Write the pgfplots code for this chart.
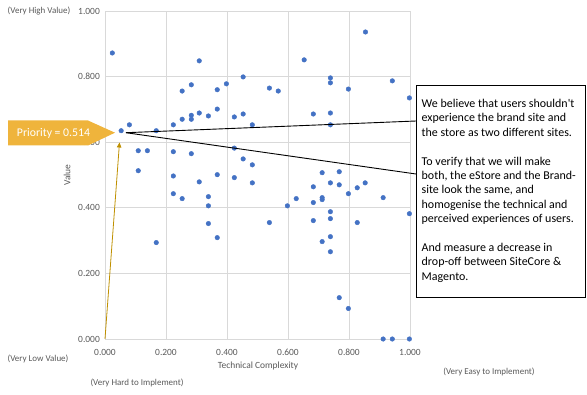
\documentclass[border=0pt]{standalone}
\usepackage{fontspec}
\setmainfont{Carlito}
\newfontfamily\boxfont{Carlito}
\usepackage{pgfplots}
\pgfplotsset{compat=1.18}
\usetikzlibrary{arrows.meta}
\definecolor{gridgray}{HTML}{D9D9D9}
\definecolor{txtgray}{HTML}{595959}
\definecolor{ptblue}{HTML}{4472C4}
\definecolor{goldfill}{HTML}{EFB43C}
\definecolor{goldline}{HTML}{BF9000}
\begin{document}
\begin{tikzpicture}
\path[use as bounding box] (0,0) rectangle (587bp,395bp);
\begin{axis}[
  at={(105bp,56bp)}, anchor=south west,
  scale only axis, width=305bp, height=328bp,
  xmin=0, xmax=1, ymin=0, ymax=1,
  clip=false,
  axis line style={draw=gridgray},
  grid=major, grid style={draw=gridgray, line width=0.6bp},
  major tick length=0pt,
  xtick={0,0.2,0.4,0.6,0.8,1},
  ytick={0,0.2,0.4,0.6,0.8,1},
  xticklabels={0.000,0.200,0.400,0.600,0.800,1.000},
  yticklabels={0.000,0.200,0.400,0.600,0.800,1.000},
  /pgf/number format/assume math mode=true,
  tick label style={font=\fontsize{9.5}{10}\selectfont, text=txtgray, inner sep=0pt},
  xticklabel style={anchor=center, yshift=-13bp},
  yticklabel style={anchor=east, xshift=-5bp},
]
\addplot[only marks, mark=*, mark size=2.3bp, mark options={fill=ptblue, draw=ptblue}] coordinates {
(0.024,0.872) (0.309,0.848) (0.453,0.799) (0.283,0.775) (0.253,0.756)
(0.398,0.778) (0.368,0.760) (0.368,0.701) (0.309,0.689) (0.283,0.682)
(0.283,0.670) (0.253,0.670) (0.339,0.680) (0.424,0.677) (0.453,0.686)
(0.224,0.653) (0.080,0.653) (0.483,0.653) (0.053,0.635) (0.168,0.635)
(0.109,0.574) (0.139,0.574) (0.224,0.571) (0.283,0.565) (0.424,0.582)
(0.453,0.549) (0.483,0.531) (0.109,0.513) (0.224,0.497) (0.368,0.501)
(0.424,0.492) (0.309,0.479) (0.483,0.476) (0.224,0.443) (0.253,0.428)
(0.339,0.434) (0.339,0.406) (0.339,0.352) (0.368,0.309) (0.168,0.294)
(0.854,0.936) (0.653,0.851) (0.739,0.796) (0.739,0.781) (0.539,0.765)
(0.568,0.756) (0.798,0.762) (0.942,0.787) (0.998,0.735) (0.683,0.686)
(0.739,0.689) (0.739,0.653) (0.712,0.507) (0.768,0.510) (0.739,0.476)
(0.768,0.470) (0.853,0.476) (0.827,0.461) (0.683,0.464) (0.798,0.443)
(0.627,0.428) (0.712,0.431) (0.712,0.425) (0.912,0.431) (0.683,0.416)
(0.598,0.406) (0.739,0.388) (0.998,0.382) (0.739,0.367) (0.683,0.361)
(0.539,0.355) (0.827,0.355) (0.739,0.312) (0.712,0.297) (0.739,0.266)
(0.768,0.126) (0.798,0.093) (0.912,0.000) (0.942,0.000) (0.998,0.000)
};
\end{axis}
\begin{scope}[x=1bp,y=1bp]
% gold arrow from origin
\draw[goldline, line width=0.8bp, -{Triangle[width=4.5bp,length=5bp]}] (105,56) -- (119.5,252.5);
% priority callout
\fill[goldfill] (8,274.5) -- (88,274.5) -- (115,262.3) -- (88,249.5) -- (8,249.5) -- cycle;
\node[text=white, font=\fontsize{11.8}{13}\selectfont, inner sep=0pt] at (53.5,262) {Priority = 0.514};
% callout lines and box
\draw[black, line width=0.9bp] (126,262.3) -- (416,274);
\draw[black, line width=0.9bp] (126,262.3) -- (416,221);
\draw[black, line width=1bp, fill=white] (416,97) rectangle (585,309);
\node[anchor=north west, inner sep=0pt, align=left, font=\boxfont\fontsize{12}{14.45}\selectfont] at (421.5,296) {We believe that users shouldn't\\experience the brand site and\\the store as two different sites.\\[14.45bp]To verify that we will make\\both, the eStore and the Brand-\\site look the same, and\\homogenise the technical and\\perceived experiences of users.\\[14.45bp]And measure a decrease in\\drop-off between SiteCore \&\\Magento.};
% axis texts
\node[text=txtgray, font=\fontsize{9}{10}\selectfont, inner sep=0pt] at (39,384) {(Very High Value)};
\node[text=txtgray, font=\fontsize{9}{10}\selectfont, inner sep=0pt] at (38,36) {(Very Low Value)};
\node[text=txtgray, font=\fontsize{9.5}{10}\selectfont, inner sep=0pt, rotate=90] at (67,220) {Value};
\node[text=txtgray, font=\fontsize{9.5}{10}\selectfont, inner sep=0pt] at (258,29) {Technical Complexity};
\node[text=txtgray, font=\fontsize{9}{10}\selectfont, inner sep=0pt] at (137,12) {(Very Hard to Implement)};
\node[text=txtgray, font=\fontsize{9}{10}\selectfont, inner sep=0pt] at (489,23) {(Very Easy to Implement)};
\end{scope}
\end{tikzpicture}
\end{document}
